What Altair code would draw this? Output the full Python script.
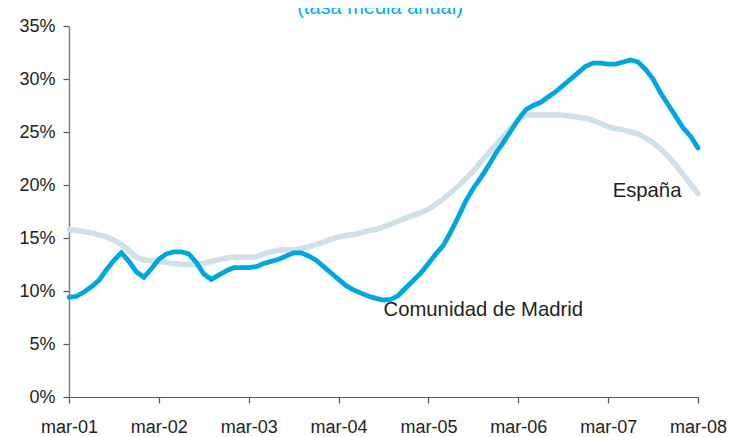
import altair as alt
import pandas as pd

tick_labels = ["mar-01", "mar-02", "mar-03", "mar-04", "mar-05", "mar-06", "mar-07", "mar-08"]
y_ticks = [0, 5, 10, 15, 20, 25, 30, 35]

# monthly values, mar-01 .. mar-08 (85 months)
madrid = [
    9.4, 9.5, 9.9, 10.4, 11.0, 12.0, 12.9, 13.6, 12.8, 11.8,
    11.3, 12.1, 13.0, 13.5, 13.7, 13.7, 13.5, 12.7, 11.6, 11.1,
    11.5, 11.9, 12.2, 12.2, 12.2, 12.3, 12.6, 12.8, 13.0, 13.3,
    13.6, 13.6, 13.3, 12.9, 12.3, 11.7, 11.1, 10.5, 10.1, 9.8,
    9.5, 9.3, 9.15, 9.2, 9.6, 10.3, 11.0, 11.7, 12.6, 13.5,
    14.3, 15.6, 17.0, 18.5, 19.7, 20.7, 21.8, 23.0, 24.0, 25.1,
    26.2, 27.1, 27.5, 27.8, 28.3, 28.8, 29.4, 30.0, 30.6, 31.2,
    31.5, 31.5, 31.4, 31.4, 31.6, 31.8, 31.6, 30.9, 30.0, 28.7,
    27.6, 26.5, 25.4, 24.6, 23.5,
]
espana = [
    15.8, 15.7, 15.6, 15.5, 15.3, 15.1, 14.8, 14.4, 13.8, 13.2,
    12.95, 12.85, 12.8, 12.7, 12.6, 12.5, 12.5, 12.5, 12.6, 12.8,
    12.95, 13.1, 13.2, 13.2, 13.2, 13.2, 13.5, 13.7, 13.85, 13.9,
    13.9, 14.0, 14.15, 14.4, 14.6, 14.9, 15.1, 15.25, 15.3, 15.5,
    15.7, 15.8, 16.05, 16.3, 16.6, 16.9, 17.15, 17.4, 17.7, 18.2,
    18.7, 19.3, 19.9, 20.6, 21.3, 22.2, 23.0, 23.8, 24.6, 25.4,
    26.1, 26.6, 26.6, 26.6, 26.6, 26.6, 26.6, 26.5, 26.4, 26.3,
    26.1, 25.8, 25.5, 25.3, 25.2, 25.0, 24.8, 24.45, 24.0, 23.4,
    22.7, 21.9, 21.0, 20.1, 19.2,
]

label_text = ["Comunidad de Madrid", "España"]
label_x = [42.0, 72.6]
label_y = [7.6, 18.9]
title_text = ["(tasa media anual)"]

FONT = "Liberation Sans"
n = len(madrid)
df_m = pd.DataFrame({"i": list(range(n)), "v": madrid})
df_e = pd.DataFrame({"i": list(range(n)), "v": espana})
df_l = pd.DataFrame({"t": label_text, "x": label_x, "y": label_y})
df_t = pd.DataFrame({"t": title_text})

lab_arr = "[" + ",".join("'%s'" % s for s in tick_labels) + "]"

x_enc = alt.X(
    "i:Q",
    scale=alt.Scale(domain=[0, 84], nice=False, zero=False),
    axis=alt.Axis(
        values=[k * 12 for k in range(len(tick_labels))],
        labelExpr=lab_arr + "[round(datum.value/12)]",
        title=None, grid=False, domainColor="#555555", domainWidth=1.2,
        tickColor="#555555", tickSize=6, tickWidth=1.2,
        labelFont=FONT, labelFontSize=18, labelColor="#222222", labelPadding=15,
        labelFlush=False,
    ),
)
y_enc = alt.Y(
    "v:Q",
    scale=alt.Scale(domain=[0, 35], nice=False),
    axis=alt.Axis(
        values=y_ticks, labelExpr="datum.value + '%'",
        title=None, grid=False, domainColor="#808080", domainWidth=1.5,
        tickColor="#555555", tickSize=6, tickWidth=1.2,
        labelFont=FONT, labelFontSize=18, labelColor="#222222", labelPadding=8,
    ),
)

esp = alt.Chart(df_e).mark_line(color="#CFE0E8", strokeWidth=5.5, strokeCap="round").encode(x=x_enc, y=y_enc)
mad = alt.Chart(df_m).mark_line(color="#00A6DF", strokeWidth=4.8, strokeCap="round").encode(x="i:Q", y="v:Q")

labels = alt.Chart(df_l).mark_text(
    align="left", baseline="alphabetic", font=FONT, fontSize=20.3, color="#231F20"
).encode(x="x:Q", y="y:Q", text="t:N")

title = alt.Chart(df_t).mark_text(
    align="center", baseline="alphabetic", font=FONT, fontSize=20, color="#00AEEF"
).encode(x=alt.value(311), y=alt.value(-12), text="t:N")

chart = (
    alt.layer(esp, mad, labels, title)
    .properties(
        width=629, height=371,
        autosize=alt.AutoSizeParams(type="none"),
        padding={"left": 61, "top": 18, "right": 30, "bottom": 40},
        background="white",
    )
    .configure_view(stroke=None)
)

chart.save("out.html", embed_options={"renderer": "svg", "actions": False})
